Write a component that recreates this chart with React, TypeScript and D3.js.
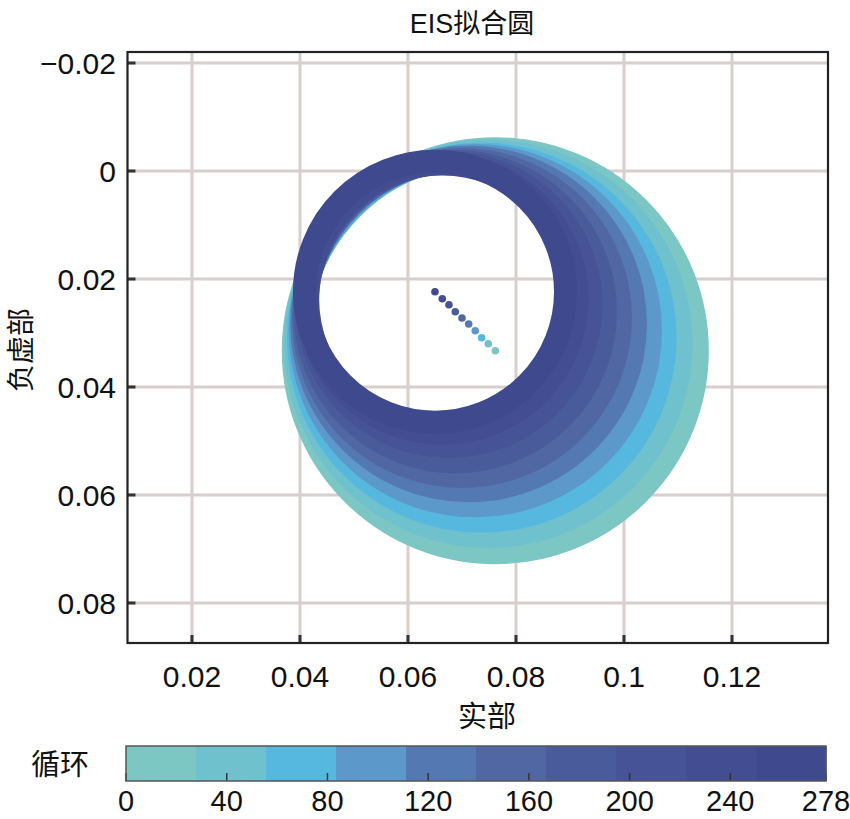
import React from "react";
import * as d3 from "d3";

// ---- data ----
const cycleBins = [0, 1, 2, 3, 4, 5, 6, 7, 8, 9];
const centerRe = [0.07617, 0.07487, 0.07365, 0.07246, 0.07124, 0.07, 0.06876, 0.06759, 0.06635, 0.065];
const centerIm = [0.03328, 0.03198, 0.03087, 0.02957, 0.02833, 0.02722, 0.02606, 0.02476, 0.02365, 0.02235];
const radii = [0.03741, 0.03569, 0.03396, 0.03243, 0.03089, 0.02935, 0.02781, 0.02628, 0.02493, 0.02417];
const binColors = ["#7cc6c3", "#6ec1cd", "#56b7df", "#5c98c9", "#5479b2", "#5067a4", "#4a5b9b", "#465396", "#434d92", "#3f4a8e"];
const xTicks = [0.02, 0.04, 0.06, 0.08, 0.1, 0.12];
const yTicks = [-0.02, 0, 0.02, 0.04, 0.06, 0.08];
const cbTicks = [0, 40, 80, 120, 160, 200, 240, 278];
const cbMax = 278;

const W = 850;
const H = 819;
const plot = { left: 127.5, right: 828, top: 52, bottom: 643 };
const cb = { left: 126, right: 826, top: 746, bottom: 781 };
const numFont = "'Liberation Sans', Arial, sans-serif";
const cjkFont = "'Noto Sans CJK SC', 'Liberation Sans', sans-serif";
const ringWidth = 23;

export default function App() {
  const x = d3.scaleLinear().domain([0.00806, 0.13778]).range([plot.left, plot.right]);
  const y = d3.scaleLinear().domain([-0.02204, 0.08741]).range([plot.top, plot.bottom]);
  const cx = d3.scaleLinear().domain([0, cbMax]).range([cb.left, cb.right]);
  const fmt = d3.format("~g");
  const binW = cbMax / binColors.length;

  return (
    <svg width={W} height={H} style={{ position: "absolute", left: 0, top: 0, background: "#fff" }}>
      <defs>
        <clipPath id="plotclip">
          <rect x={plot.left} y={plot.top} width={plot.right - plot.left} height={plot.bottom - plot.top} />
        </clipPath>
      </defs>
      {/* grid */}
      <g stroke="#d8cecb" strokeWidth={3}>
        {xTicks.map((t) => (
          <line key={"gx" + t} x1={x(t)} x2={x(t)} y1={plot.top} y2={plot.bottom} />
        ))}
        {yTicks.map((t) => (
          <line key={"gy" + t} y1={y(t)} y2={y(t)} x1={plot.left} x2={plot.right} />
        ))}
      </g>
      {/* rings */}
      <g clipPath="url(#plotclip)">
        {cycleBins.map((i) => (
          <circle
            key={"c" + i}
            cx={x(centerRe[i])}
            cy={y(centerIm[i])}
            r={x(centerRe[i] + radii[i]) - x(centerRe[i])}
            fill="none"
            stroke={binColors[i]}
            strokeWidth={ringWidth}
          />
        ))}
        {cycleBins.map((i) => (
          <circle key={"d" + i} cx={x(centerRe[i])} cy={y(centerIm[i])} r={3.8} fill={binColors[i]} />
        ))}
      </g>
      {/* ticks */}
      <g stroke="#333" strokeWidth={3}>
        {xTicks.map((t) => (
          <line key={"tx" + t} x1={x(t)} x2={x(t)} y1={plot.bottom} y2={plot.bottom - 8} />
        ))}
        {yTicks.map((t) => (
          <line key={"ty" + t} y1={y(t)} y2={y(t)} x1={plot.left} x2={plot.left + 8} />
        ))}
      </g>
      {/* frame */}
      <rect
        x={plot.left}
        y={plot.top}
        width={plot.right - plot.left}
        height={plot.bottom - plot.top}
        fill="none"
        stroke="#222"
        strokeWidth={2.2}
      />
      {/* tick labels */}
      <g fontFamily={numFont} fontSize={30} fill="#111">
        {xTicks.map((t) => (
          <text key={"lx" + t} x={x(t)} y={687} textAnchor="middle">
            {fmt(t)}
          </text>
        ))}
        {yTicks.map((t) => (
          <text key={"ly" + t} x={116} y={y(t) + 11} textAnchor="end">
            {fmt(t)}
          </text>
        ))}
      </g>
      {/* titles */}
      <text x={472} y={33} textAnchor="middle" fontSize={27} fill="#111">
        <tspan fontFamily={numFont}>EIS</tspan>
        <tspan fontFamily={cjkFont}>拟合圆</tspan>
      </text>
      <text x={487} y={727} textAnchor="middle" fontSize={29} fontFamily={cjkFont} fill="#111">
        实部
      </text>
      <text
        transform={`translate(31,350) rotate(-90)`}
        textAnchor="middle"
        fontSize={28}
        fontFamily={cjkFont}
        fill="#111"
      >
        负虚部
      </text>
      {/* colorbar */}
      <g>
        {binColors.map((c, i) => (
          <rect
            key={"cb" + i}
            x={cx(i * binW)}
            y={cb.top}
            width={cx((i + 1) * binW) - cx(i * binW) + 0.5}
            height={cb.bottom - cb.top}
            fill={c}
          />
        ))}
        <g stroke="#333" strokeWidth={1.5}>
          {cbTicks.map((t) => (
            <line key={"ct" + t} x1={cx(t)} x2={cx(t)} y1={cb.bottom} y2={cb.bottom - 8} />
          ))}
        </g>
        <rect
          x={cb.left}
          y={cb.top}
          width={cb.right - cb.left}
          height={cb.bottom - cb.top}
          fill="none"
          stroke="#555"
          strokeWidth={1.5}
        />
        <g fontFamily={numFont} fontSize={29} fill="#111">
          {cbTicks.map((t) => (
            <text key={"cl" + t} x={cx(t)} y={811} textAnchor="middle">
              {t}
            </text>
          ))}
        </g>
        <text x={60} y={775} textAnchor="middle" fontSize={29} fontFamily={cjkFont} fill="#111">
          循环
        </text>
      </g>
    </svg>
  );
}
